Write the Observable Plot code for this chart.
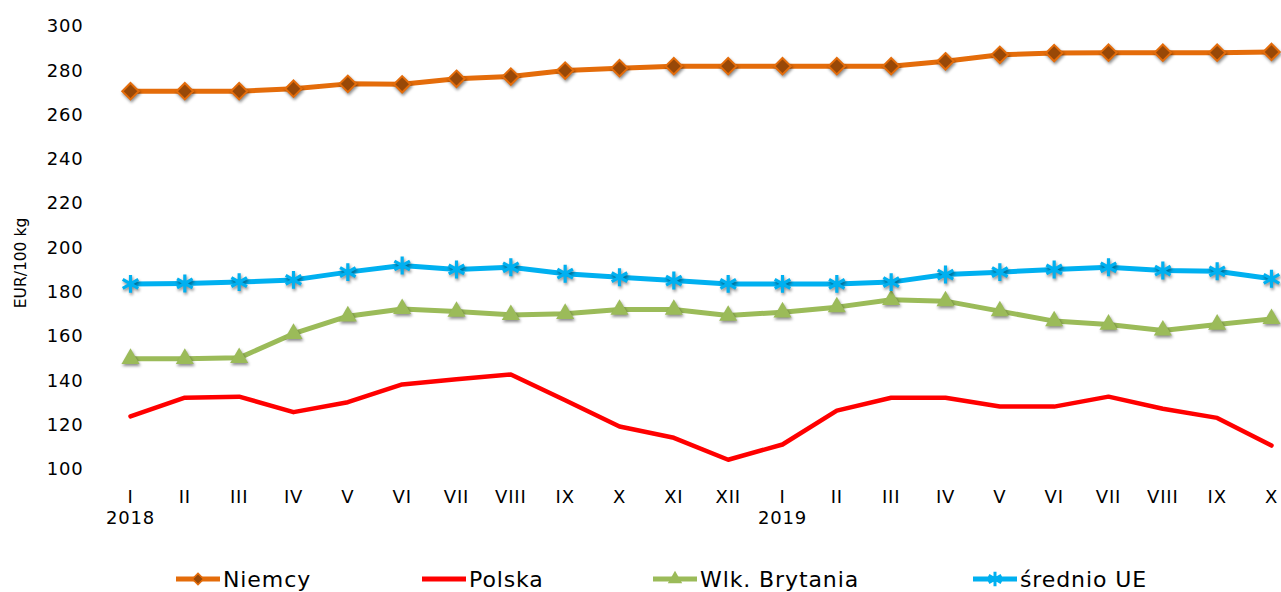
<!DOCTYPE html>
<html>
<head>
<meta charset="utf-8">
<script src="https://cdn.jsdelivr.net/npm/d3@7"></script>
<script src="https://cdn.jsdelivr.net/npm/@observablehq/plot@0.6"></script>
<style>
  body { margin: 0; background: #fff; font-family: "DejaVu Sans", Verdana, sans-serif; }
  #wrap { position: relative; width: 1281px; height: 592px; overflow: hidden; }
  #legend { position: absolute; left: 0; top: 564px; width: 1281px; height: 30px; font-size: 22px; letter-spacing: 0.9px; color: #000; }
  .item { position: absolute; top: 0; height: 30px; display: flex; align-items: center; white-space: nowrap; }
  .item svg { margin-right: 3px; overflow: visible; }
  g[aria-label="dot"] { filter: drop-shadow(1.5px 2.5px 1.5px rgba(0,0,0,0.45)); }
  g[aria-label="y-axis tick label"] text, g[aria-label="x-axis tick label"] text { letter-spacing: 0.8px; }
</style>
</head>
<body>
<div id="wrap">
  <div id="chart"></div>
  <div id="legend"></div>
</div>
<script>
// ---- data ----
const months = ["I","II","III","IV","V","VI","VII","VIII","IX","X","XI","XII",
                "I","II","III","IV","V","VI","VII","VIII","IX","X"];
const yearIndex = [0, 12];
const years = ["2018", "2019"];
const yTicks = [100,120,140,160,180,200,220,240,260,280,300];

const niemcy = [270.8,270.8,270.8,271.9,274.1,273.9,276.4,277.4,280.1,281.2,282.1,282.1,
                282.1,282.1,282.1,284.3,287.2,288.0,288.2,288.2,288.2,288.5];
const polska = [124.0,132.4,132.9,125.9,130.4,138.4,140.7,142.9,131.3,119.4,114.3,104.4,
                111.3,126.6,132.4,132.4,128.4,128.4,132.9,127.4,123.3,110.8];
const brytania = [150.0,150.0,150.4,161.3,169.2,172.5,171.3,169.8,170.3,172.2,172.2,169.5,
                  171.0,173.3,176.6,176.0,171.5,167.0,165.5,162.8,165.5,168.0];
const ue = [183.8,184.0,184.6,185.6,189.1,192.1,190.3,191.3,188.4,186.8,185.3,183.8,
            183.8,183.8,184.6,188.0,189.1,190.3,191.3,189.8,189.5,186.1];

const seriesNames = ["Niemcy", "Polska", "Wlk. Brytania", "średnio UE"];
const seriesColors = ["#E46C0A", "#FF0000", "#9BBB59", "#00B0F0"];
const yLabel = "EUR/100 kg";

// ---- build rows ----
const toRows = arr => arr.map((v, i) => ({i, v}));
const rN = toRows(niemcy), rP = toRows(polska), rB = toRows(brytania), rU = toRows(ue);

const tickFmt = i => {
  const k = yearIndex.indexOf(i);
  return k >= 0 ? months[i] + "\n" + years[k] : months[i];
};

const chart = Plot.plot({
  width: 1281,
  height: 540,
  marginLeft: 130,
  marginRight: 10,
  marginTop: 26,
  marginBottom: 71,
  style: { fontFamily: "DejaVu Sans, Verdana, sans-serif", color: "#000", background: "#fff", overflow: "visible" },
  x: { type: "linear", domain: [0, months.length - 1] },
  y: { domain: [100, 300] },
  marks: [
    Plot.axisY(yTicks, { tickSize: 0, tickPadding: 47, fontSize: 18, label: null }),
    Plot.axisX(d3.range(months.length), { tickSize: 0, tickPadding: 18, fontSize: 18, lineHeight: 1.2, tickFormat: tickFmt, label: null }),
    Plot.text([yLabel], { frameAnchor: "left", rotate: -90, textAnchor: "middle", dx: -109, dy: 15, fontSize: 15.5, fill: "#000" }),
    Plot.line(rN, { x: "i", y: "v", stroke: seriesColors[0], strokeWidth: 5 }),
    Plot.line(rP, { x: "i", y: "v", stroke: seriesColors[1], strokeWidth: 4.5 }),
    Plot.line(rB, { x: "i", y: "v", stroke: seriesColors[2], strokeWidth: 5 }),
    Plot.line(rU, { x: "i", y: "v", stroke: seriesColors[3], strokeWidth: 5 }),
    Plot.dot(rN, { x: "i", y: "v", symbol: d3.symbolDiamond2, r: 7.4, fill: "#984807", stroke: seriesColors[0], strokeWidth: 2 }),
    Plot.dot(rB, { x: "i", y: "v", symbol: "triangle", r: 6.7, fill: seriesColors[2], stroke: "none" }),
    Plot.dot(rU, { x: "i", y: "v", symbol: "asterisk", r: 8.5, stroke: seriesColors[3], strokeWidth: 3.2, fill: "none" })
  ]
});
document.getElementById("chart").appendChild(chart);

// ---- legend ----
const legendLeft = [176, 422, 653, 973];
const legendSymbols = [
  {sym: d3.symbolDiamond2, size: 80, fill: "#984807", stroke: seriesColors[0], sw: 1.5},
  null,
  {sym: d3.symbolTriangle, size: 90, fill: seriesColors[2], stroke: "none", sw: 0},
  {sym: d3.symbolAsterisk, size: 150, fill: "none", stroke: seriesColors[3], sw: 3}
];
const legend = d3.select("#legend");
seriesNames.forEach((name, k) => {
  const item = legend.append("div").attr("class", "item").style("left", legendLeft[k] + "px");
  const svg = item.append("svg").attr("width", 44).attr("height", 20);
  svg.append("line").attr("x1", 0).attr("x2", 44).attr("y1", 10).attr("y2", 10)
     .attr("stroke", seriesColors[k]).attr("stroke-width", 5);
  const s = legendSymbols[k];
  if (s) {
    svg.append("path").attr("transform", "translate(22,10)")
       .attr("d", d3.symbol(s.sym, s.size)())
       .attr("fill", s.fill).attr("stroke", s.stroke).attr("stroke-width", s.sw);
  }
  item.append("span").text(name);
});
</script>
</body>
</html>
